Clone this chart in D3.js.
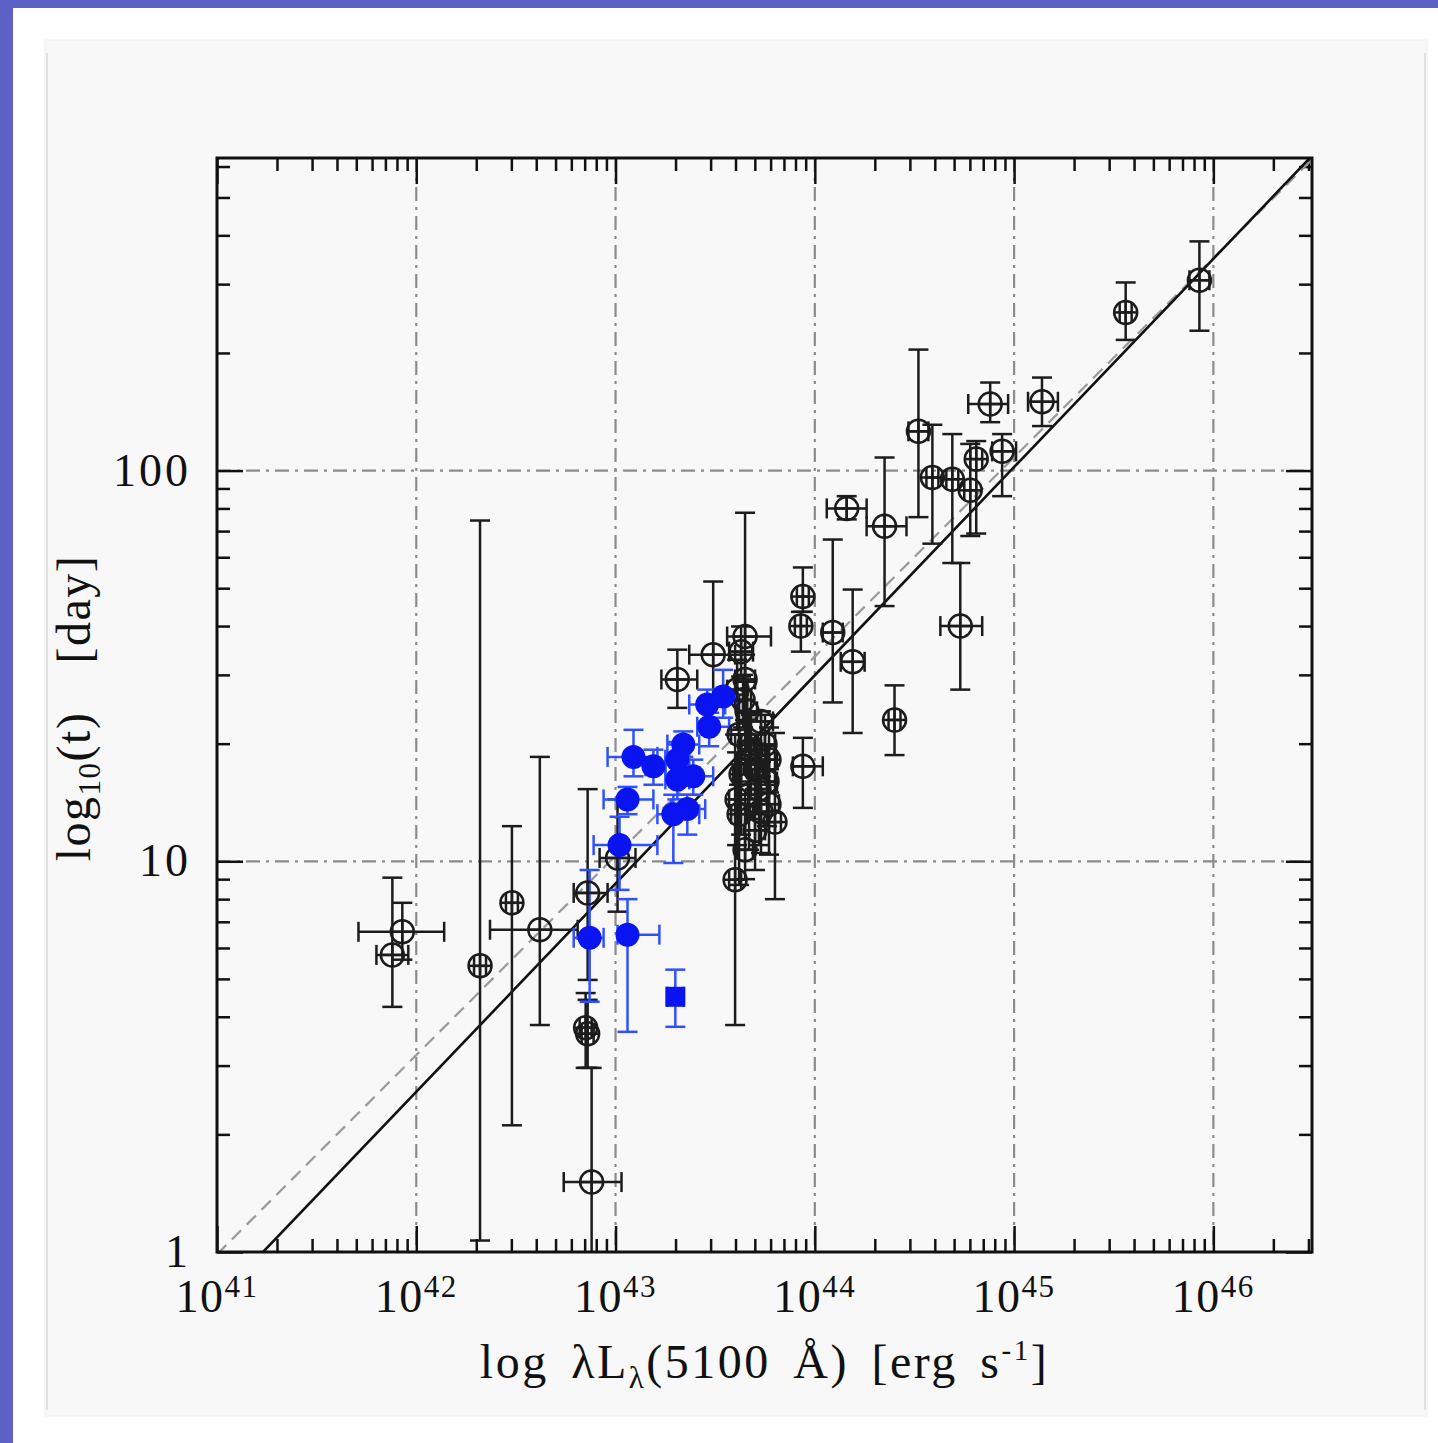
<!DOCTYPE html>
<html>
<head>
<meta charset="utf-8">
<script src="https://cdn.jsdelivr.net/npm/d3@7"></script>
<style>
  body { margin: 0; background: #fff; }
  svg { display: block; }
</style>
</head>
<body>
<script>
// open circles: [log L, log L low, log L high, t (day), t low, t high]
const blackPts = [
  [45.93, 45.88, 45.98, 307, 228, 386],
  [45.56, 45.53, 45.59, 254, 216, 303],
  [45.14, 45.07, 45.22, 150, 130, 173],
  [44.88, 44.77, 44.97, 148, 133, 168],
  [44.52, 44.47, 44.57, 126, 76, 204],
  [44.81, 44.78, 44.84, 107, 69, 119],
  [44.94, 44.89, 45.01, 112, 86, 124],
  [44.59, 44.56, 44.62, 96, 65, 131],
  [44.69, 44.66, 44.72, 95, 58, 124],
  [44.78, 44.75, 44.81, 89, 68, 117],
  [44.16, 44.06, 44.26, 80, 75, 86],
  [44.35, 44.26, 44.46, 72, 45, 108],
  [44.73, 44.63, 44.84, 40, 27.5, 58],
  [43.94, 43.91, 43.97, 47.6, 43.5, 56.5],
  [43.93, 43.90, 43.96, 40, 34.4, 43.5],
  [44.09, 44.04, 44.14, 38.5, 25.5, 66.6],
  [44.19, 44.13, 44.25, 32.4, 21.3, 49.6],
  [44.40, 44.37, 44.43, 23, 18.7, 28.2],
  [43.94, 43.89, 44.04, 17.5, 13.7, 20.7],
  [43.80, 43.77, 43.83, 12.6, 8.0, 21.3],
  [43.49, 43.37, 43.60, 33.8, 25.9, 52],
  [43.31, 43.23, 43.41, 29.2, 24.7, 34.8],
  [43.65, 43.56, 43.78, 37.6, 18.2, 78],
  [43.60, 43.57, 43.63, 8.97, 3.81, 21.1],
  [41.93, 41.71, 42.14, 6.6, 5.6, 7.83],
  [41.88, 41.80, 41.96, 5.76, 4.24, 9.08],
  [42.32, 42.29, 42.35, 5.40, 1.07, 74.5],
  [42.48, 42.45, 42.51, 7.83, 2.11, 12.3],
  [42.62, 42.37, 42.81, 6.68, 3.81, 18.5],
  [42.86, 42.79, 42.96, 8.3, 4.97, 15.3],
  [42.85, 42.82, 42.88, 3.75, 2.96, 4.6],
  [42.86, 42.83, 42.89, 3.62, 2.96, 4.42],
  [42.88, 42.74, 43.03, 1.51, 0.9, 2.96],
  [43.01, 42.92, 43.10, 10.2, 7.43, 14.4],
  [43.63, 43.57, 43.69, 34.4, 29.7, 39.9],
  [43.61, 43.56, 43.66, 27.5, 21.7, 32.8],
  [43.66, 43.61, 43.71, 24.2, 19.1, 28.8],
  [43.62, 43.58, 43.66, 21.1, 15.7, 26.7],
  [43.68, 43.63, 43.73, 19.3, 14.8, 23.7],
  [43.73, 43.67, 43.79, 22.8, 18.0, 24.2],
  [43.75, 43.70, 43.80, 19.9, 15.7, 23.7],
  [43.71, 43.65, 43.77, 17.7, 13.2, 21.1],
  [43.76, 43.71, 43.81, 16.0, 12.3, 19.7],
  [43.63, 43.59, 43.67, 16.7, 11.7, 21.1],
  [43.67, 43.62, 43.72, 14.8, 10.7, 18.7],
  [43.77, 43.72, 43.82, 14.0, 10.4, 17.2],
  [43.62, 43.58, 43.66, 13.2, 8.7, 17.7],
  [43.70, 43.65, 43.75, 12.0, 9.5, 15.3],
  [43.65, 43.61, 43.69, 10.7, 9.0, 14.4],
  [43.72, 43.67, 43.77, 15.3, 11.0, 19.3],
  [43.65, 43.60, 43.70, 29.2, 23.0, 33.8],
  [43.64, 43.60, 43.68, 25.9, 22.0, 30.0],
  [43.70, 43.66, 43.74, 17.2, 14.0, 20.0],
  [43.73, 43.69, 43.77, 13.4, 10.5, 16.5],
  [43.67, 43.63, 43.71, 19.9, 16.0, 24.0],
  [43.61, 43.57, 43.65, 14.4, 11.0, 19.0],
  [43.77, 43.73, 43.81, 18.2, 15.0, 22.0]
];

// filled blue circles, same columns
const bluePts = [
  [42.87, 42.79, 42.94, 6.37, 4.37, 9.5],
  [43.06, 43.01, 43.22, 6.49, 3.66, 8.0],
  [43.02, 42.89, 43.21, 11.0, 8.45, 13.0],
  [43.06, 42.94, 43.19, 14.4, 13.2, 15.5],
  [43.09, 42.96, 43.21, 18.5, 16.5, 21.7],
  [43.19, 43.15, 43.25, 17.5, 15.7, 19.3],
  [43.34, 43.26, 43.42, 19.9, 18.5, 21.5],
  [43.31, 43.25, 43.37, 18.2, 16.4, 20.2],
  [43.31, 43.25, 43.37, 16.2, 14.4, 17.7],
  [43.39, 43.32, 43.49, 16.5, 14.8, 18.2],
  [43.29, 43.21, 43.42, 13.2, 9.9, 14.8],
  [43.36, 43.28, 43.45, 13.6, 11.7, 14.8],
  [43.47, 43.41, 43.57, 22.1, 19.7, 24.0],
  [43.46, 43.37, 43.55, 25.2, 22.8, 27.5],
  [43.54, 43.51, 43.61, 26.4, 23.3, 30.9]
];
// filled blue square
const blueSquarePts = [
  [43.30, 43.26, 43.34, 4.50, 3.77, 5.28]
];

// R-L fits: [log t at L = 1e44, slope]
const fitSolid = [1.476, 0.533];
const fitDashed = [1.524, 0.51];

const xDecades = [41, 42, 43, 44, 45, 46];
const yLabels = [1, 10, 100];

const W = 1438, H = 1443;
const frame = {left: 217, right: 1312, top: 158, bottom: 1252};
const serif = "'Liberation Serif', 'Times New Roman', serif";

const svg = d3.select("body").append("svg")
  .attr("width", W).attr("height", H);

// slide background
svg.append("rect").attr("width", W).attr("height", H).attr("fill", "#fff");
svg.append("rect").attr("width", W).attr("height", 8).attr("fill", "#5d61c6");
svg.append("rect").attr("width", 13).attr("height", H).attr("fill", "#5d61c6");
svg.append("rect").attr("x", 45).attr("y", 40).attr("width", 1382).attr("height", 1376)
  .attr("fill", "#f8f8f8").attr("stroke", "#f0f0f0");
svg.append("line").attr("x1", 47).attr("x2", 47).attr("y1", 53).attr("y2", 1410)
  .attr("stroke", "#d8d8d8").attr("stroke-width", 1.5);
svg.append("line").attr("x1", 1425).attr("x2", 1425).attr("y1", 53).attr("y2", 1410)
  .attr("stroke", "#d8d8d8").attr("stroke-width", 1.5);

const x = d3.scaleLog().domain([1e41, Math.pow(10, 46.495)]).range([frame.left, frame.right]);
const y = d3.scaleLog().domain([1, Math.pow(10, 2.8)]).range([frame.bottom, frame.top]);
const pw = frame.right - frame.left, ph = frame.bottom - frame.top;

svg.append("clipPath").attr("id", "plotclip")
  .append("rect").attr("x", frame.left).attr("y", frame.top).attr("width", pw).attr("height", ph);

// dash-dot grid at decades
const grid = svg.append("g").attr("stroke", "#8c8c8c").attr("stroke-width", 2.2)
  .attr("stroke-dasharray", "14,6,3,6");
grid.selectAll("line.gx").data(xDecades.slice(1)).join("line")
  .attr("x1", d => x(Math.pow(10, d))).attr("x2", d => x(Math.pow(10, d)))
  .attr("y1", frame.top).attr("y2", frame.bottom);
grid.selectAll("line.gy").data(yLabels.slice(1)).join("line")
  .attr("y1", d => y(d)).attr("y2", d => y(d))
  .attr("x1", frame.left).attr("x2", frame.right);

// ticks (inward, all four sides)
const xMinor = [], xMajor = xDecades.map(e => Math.pow(10, e));
xDecades.forEach(e => d3.range(2, 10).forEach(m => {
  const v = m * Math.pow(10, e);
  if (v <= x.domain()[1]) xMinor.push(v);
}));
const yMajor = [1, 10, 100], yMinor = [];
[0, 1, 2].forEach(e => d3.range(2, 10).forEach(m => {
  const v = m * Math.pow(10, e);
  if (v <= y.domain()[1]) yMinor.push(v);
}));

function tickAxis(gen, vals, len, tr) {
  svg.append("g").attr("transform", tr)
    .call(gen.tickValues(vals).tickSize(len).tickFormat(""))
    .call(g => g.select(".domain").remove())
    .call(g => g.selectAll("line").attr("stroke", "#111").attr("stroke-width", 2.5));
}
tickAxis(d3.axisBottom(x), xMinor, -13, `translate(0,${frame.bottom})`);
tickAxis(d3.axisBottom(x), xMajor, -26, `translate(0,${frame.bottom})`);
tickAxis(d3.axisTop(x), xMinor, -13, `translate(0,${frame.top})`);
tickAxis(d3.axisTop(x), xMajor, -26, `translate(0,${frame.top})`);
tickAxis(d3.axisLeft(y), yMinor, -13, `translate(${frame.left},0)`);
tickAxis(d3.axisLeft(y), yMajor, -26, `translate(${frame.left},0)`);
tickAxis(d3.axisRight(y), yMinor, -13, `translate(${frame.right},0)`);
tickAxis(d3.axisRight(y), yMajor, -26, `translate(${frame.right},0)`);

// fit lines
const plot = svg.append("g").attr("clip-path", "url(#plotclip)");
const fitLine = f => [41, 46.6].map(l => [Math.pow(10, l), Math.pow(10, f[0] + f[1] * (l - 44))]);
const line = d3.line().x(d => x(d[0])).y(d => y(d[1]));
plot.append("path").attr("d", line(fitLine(fitDashed)))
  .attr("fill", "none").attr("stroke", "#999").attr("stroke-width", 2.2)
  .attr("stroke-dasharray", "13,8");
plot.append("path").attr("d", line(fitLine(fitSolid)))
  .attr("fill", "none").attr("stroke", "#111").attr("stroke-width", 2.6);

// error bars
const cap = 10;
function errorBars(data, color) {
  const g = plot.append("g").attr("stroke", color).attr("stroke-width", 2.5).attr("fill", "none");
  data.forEach(d => {
    const cx = x(Math.pow(10, d[0])), cy = y(d[3]);
    const xl = x(Math.pow(10, d[1])), xh = x(Math.pow(10, d[2]));
    const yl = y(d[4]), yh = y(d[5]);
    g.append("line").attr("x1", xl).attr("x2", xh).attr("y1", cy).attr("y2", cy);
    g.append("line").attr("x1", xl).attr("x2", xl).attr("y1", cy - cap).attr("y2", cy + cap);
    g.append("line").attr("x1", xh).attr("x2", xh).attr("y1", cy - cap).attr("y2", cy + cap);
    g.append("line").attr("x1", cx).attr("x2", cx).attr("y1", yl).attr("y2", yh);
    g.append("line").attr("x1", cx - cap).attr("x2", cx + cap).attr("y1", yl).attr("y2", yl);
    g.append("line").attr("x1", cx - cap).attr("x2", cx + cap).attr("y1", yh).attr("y2", yh);
  });
}
errorBars(blackPts, "#1c1c1c");
errorBars(bluePts.concat(blueSquarePts), "#3050ff");

// open circles with cross
const r = 11.5;
const open = plot.append("g").attr("stroke", "#1c1c1c").attr("stroke-width", 2.5).attr("fill", "none");
blackPts.forEach(d => {
  const cx = x(Math.pow(10, d[0])), cy = y(d[3]);
  open.append("circle").attr("cx", cx).attr("cy", cy).attr("r", r);
  open.append("line").attr("x1", cx - r).attr("x2", cx + r).attr("y1", cy).attr("y2", cy);
  open.append("line").attr("x1", cx).attr("x2", cx).attr("y1", cy - r).attr("y2", cy + r);
});

// filled blue markers
plot.append("g").selectAll("circle").data(bluePts).join("circle")
  .attr("cx", d => x(Math.pow(10, d[0]))).attr("cy", d => y(d[3])).attr("r", 12)
  .attr("fill", "#0a14f0");
plot.append("g").selectAll("rect").data(blueSquarePts).join("rect")
  .attr("x", d => x(Math.pow(10, d[0])) - 10).attr("y", d => y(d[3]) - 10)
  .attr("width", 20).attr("height", 20).attr("fill", "#0a14f0");

// frame
svg.append("rect").attr("x", frame.left).attr("y", frame.top).attr("width", pw).attr("height", ph)
  .attr("fill", "none").attr("stroke", "#111").attr("stroke-width", 3);

// tick labels
const xl = svg.append("g").attr("font-family", serif).attr("fill", "#111");
xDecades.forEach(e => {
  const t = xl.append("text").attr("x", x(Math.pow(10, e))).attr("y", 1312)
    .attr("text-anchor", "middle").attr("font-size", 46).attr("letter-spacing", 1.5);
  t.append("tspan").text("10");
  t.append("tspan").attr("font-size", 31).attr("dy", -15).text(e);
});
yLabels.forEach(v => {
  xl.append("text").attr("x", 191).attr("y", y(v) + 15)
    .attr("text-anchor", "end").attr("font-size", 46).attr("letter-spacing", 3).text(v);
});

// axis titles
const xt = xl.append("text").attr("x", (frame.left + frame.right) / 2).attr("y", 1378)
  .attr("text-anchor", "middle").attr("font-size", 48)
  .attr("letter-spacing", 2.5).attr("word-spacing", 8);
xt.append("tspan").text("log λL");
xt.append("tspan").attr("font-size", 31).attr("dy", 10).text("λ");
xt.append("tspan").attr("dy", -10).text("(5100 Å) [erg s");
xt.append("tspan").attr("font-size", 29).attr("dy", -18).text("-1");
xt.append("tspan").attr("dy", 18).text("]");

const yt = xl.append("text").attr("transform", "translate(90,708) rotate(-90)")
  .attr("text-anchor", "middle").attr("font-size", 48).attr("letter-spacing", 1.5);
yt.append("tspan").text("log");
yt.append("tspan").attr("font-size", 31).attr("dy", 10).text("10");
yt.append("tspan").attr("dy", -10).text("(t)");
yt.append("tspan").attr("dx", 48).text("[day]");
</script>
</body>
</html>
